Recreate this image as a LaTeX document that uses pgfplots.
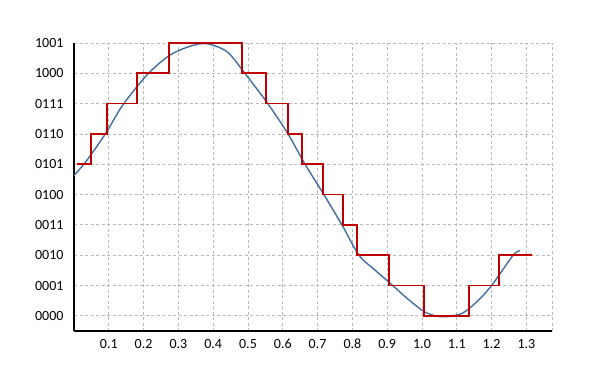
\documentclass[border=0pt]{standalone}
\usepackage{fontspec}
\setmainfont{Carlito}
\usepackage{pgfplots}
\pgfplotsset{compat=1.18}
\definecolor{curveblue}{HTML}{3E6FA3}
\definecolor{stepred}{HTML}{C00000}
\begin{document}
\begin{tikzpicture}[x=1pt,y=1pt]
\path[use as bounding box] (0,0) rectangle (600,378);
\begin{axis}[
  at={(74pt,47pt)}, anchor=south west,
  scale only axis, width=478pt, height=288pt,
  xmin=0, xmax=1.3736, ymin=-0.5, ymax=9,
  axis lines=left, axis line style={line width=2pt, black, -},
  clip=false,
  xtick={0.1,0.2,0.3,0.4,0.5,0.6,0.7,0.8,0.9,1.0,1.1,1.2,1.3},
  xticklabels={0.1,0.2,0.3,0.4,0.5,0.6,0.7,0.8,0.9,1.0,1.1,1.2,1.3},
  extra x ticks={1.3736}, extra x tick labels={},
  extra x tick style={grid=major},
  ytick={0,1,2,3,4,5,6,7,8,9},
  yticklabels={0000,0001,0010,0011,0100,0101,0110,0111,1000,1001},
  major tick length=0pt,
  grid=major,
  major grid style={gray!55, line width=0.8pt, dash pattern=on 3pt off 2.5pt},
  tick label style={font=\fontsize{14}{16}\selectfont, black},
  xticklabel style={yshift=-4pt, text height=9.5pt, text depth=0pt},
  yticklabel style={xshift=-7pt},
]
\addplot[curveblue, line width=1.4pt, smooth, tension=0.5] coordinates {
(0,4.63) (0.035,5.1) (0.09,6) (0.14,6.95) (0.21,7.95) (0.273,8.58) (0.33,8.88)
(0.38,8.98) (0.44,8.71) (0.491,8) (0.557,7) (0.615,6) (0.664,5) (0.718,4)
(0.770,3) (0.819,2) (0.866,1.5) (0.914,1.02) (0.96,0.55) (1.006,0.14)
(1.04,0.0) (1.066,-0.03) (1.115,0.08) (1.158,0.47) (1.20,1) (1.262,2) (1.282,2.15)
};
\addplot[stepred, line width=1.7pt] coordinates {
(0.009,5) (0.049,5) (0.049,6) (0.095,6) (0.095,7) (0.181,7) (0.181,8) (0.273,8)
(0.273,9) (0.483,9) (0.483,8) (0.552,8) (0.552,7) (0.615,7) (0.615,6) (0.655,6)
(0.655,5) (0.716,5) (0.716,4) (0.773,4) (0.773,3) (0.813,3) (0.813,2) (0.905,2)
(0.905,1) (1.006,1) (1.006,0) (1.135,0) (1.135,1) (1.221,1) (1.221,2) (1.316,2)
};
\end{axis}
\end{tikzpicture}
\end{document}
